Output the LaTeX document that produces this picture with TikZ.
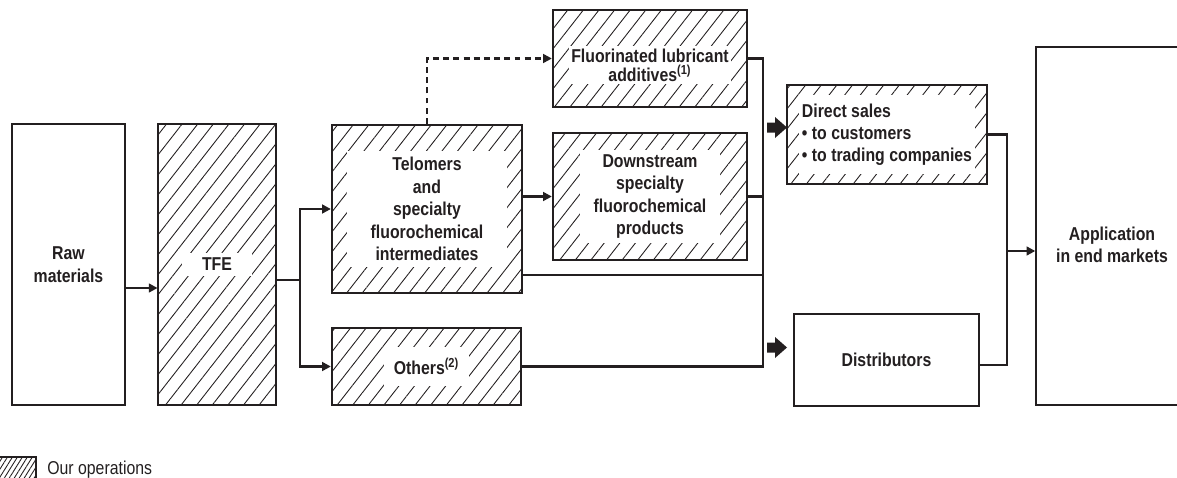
\documentclass[tikz,border=0pt]{standalone}
\usepackage{fontspec}
\setmainfont{Liberation Sans}[FakeStretch=0.85]
\usetikzlibrary{arrows.meta,fit,patterns.meta}
\definecolor{ink}{RGB}{35,31,32}

\begin{document}
\begin{tikzpicture}[x=0.02cm,y=-0.02cm,
  every node/.style={text=ink},
  plain/.style={draw=ink, line width=0.8pt, inner sep=0pt},
  ops/.style={draw=ink, line width=1.3pt, inner sep=0pt,
    pattern={Lines[angle=52,distance=7pt,line width=0.5pt]}, pattern color=ink},
  legendops/.style={draw=ink, line width=0.9pt, inner sep=0pt,
    pattern={Lines[angle=58,distance=2.4pt,line width=0.5pt]}, pattern color=ink},
  lbl/.style={fill=white, align=center, inner sep=0pt,
    font=\bfseries\fontsize{10.6}{12.75}\selectfont},
  conn/.style={draw=ink, line width=1.4pt},
  arr/.style={conn, -{Triangle[length=5pt,width=5pt]}},
  dasharr/.style={arr, dash pattern=on 3.4pt off 2.4pt},
  bigarrow/.style={fill=ink, draw=none}
]
\useasboundingbox (0,0) rectangle (1177,477);

% ---- boxes ----
\node[plain, fit={(12,124) (125,405)}] (raw) {};
\node[ops,   fit={(158,124) (276,405)}] (tfe) {};
\node[ops,   fit={(332,125) (522,293)}] (telo) {};
\node[ops,   fit={(332,328) (521,405)}] (oth) {};
\node[ops,   fit={(553,10) (747,107)}] (lub) {};
\node[ops,   fit={(553,133) (747,260)}] (down) {};
\node[ops,   fit={(787,85) (987,184)}] (direct) {};
\node[plain, fit={(794,314) (979,406)}] (dist) {};
\node[plain, fit={(1036,47) (1195,405)}] (app) {};

% ---- labels ----
\node[lbl, fill=none] (rawtxt) at (raw.center) {Raw\\materials};
\node[lbl, inner xsep=0.4cm, inner ysep=0.1cm] (tfetxt) at (tfe.center) {TFE};
\node[lbl, inner xsep=0.48cm, inner ysep=0.12cm] (telotxt) at (telo.center)
  {Telomers\\and\\specialty\\fluorochemical\\intermediates};
\node[lbl, inner xsep=0.2cm, inner ysep=0.22cm] (othtxt) at (oth.center)
  {Others\textsuperscript{(2)}};
\node[lbl, inner xsep=0.04cm, inner ysep=0.05cm,
  font=\bfseries\fontsize{10.6}{10.9}\selectfont] (lubtxt) at (650,65)
  {Fluorinated lubricant\\additives\textsuperscript{(1)}};
\node[lbl, inner xsep=0.28cm, inner ysep=0.1cm] (downtxt) at (down.center)
  {Downstream\\specialty\\fluorochemical\\products};
\node[lbl, align=left, inner xsep=0.06cm, inner ysep=0.18cm,
  font=\bfseries\fontsize{10.6}{12.5}\selectfont] (directtxt) at (direct.center)
  {Direct sales\\\textbullet\ to customers\\\textbullet\ to trading companies};
\node[lbl, fill=none] (disttxt) at (dist.center) {Distributors};
\node[lbl, fill=none, font=\bfseries\fontsize{10.6}{12.5}\selectfont] (apptxt) at (1112,245)
  {Application\\in end markets};

% ---- legend ----
\node[legendops, fit={(-2,457) (36,480)}] (legbox) {};
\node[anchor=base west, inner sep=0pt, font=\fontsize{10.6}{12}\selectfont] (legtxt)
  at (47,474) {Our operations};

% ---- bus positions ----
\coordinate (split) at (300,280);
\coordinate (busR) at (763,0);
\coordinate (busA) at (1007,0);

% ---- connectors ----
\draw[arr] (raw.east |- 0,288) -- (tfe.west |- 0,288);
\draw[conn] (tfe.east |- split) -- (split);
\draw[arr] (split) |- (telo.west);
\draw[arr] (split) |- (oth.west);
\draw[dasharr] (telo.north) |- (lub.west);
\draw[arr] (telo.east |- down.west) -- (down.west);

\draw[conn] (lub.east) -| (busR |- oth.east) -- (oth.east);
\draw[conn] (down.east) -- (busR |- down.east);
\draw[conn] (telo.east |- 0,275) -- (busR |- 0,275);

\draw[conn] (direct.east) -| (busA |- 0,365) -- (dist.east |- 0,365);
\draw[arr] (busA |- 0,251) -- (app.west |- 0,251);

% ---- block arrows into the sales channels ----
\fill[bigarrow] (767,122.5) -- ++(8,0) -- ++(0,-5.5) -- ++(12,10.5)
  -- ++(-12,10.5) -- ++(0,-5.5) -- ++(-8,0) -- cycle;
\fill[bigarrow] (767,342.5) -- ++(8,0) -- ++(0,-5.5) -- ++(12,10.5)
  -- ++(-12,10.5) -- ++(0,-5.5) -- ++(-8,0) -- cycle;
\end{tikzpicture}
\end{document}
